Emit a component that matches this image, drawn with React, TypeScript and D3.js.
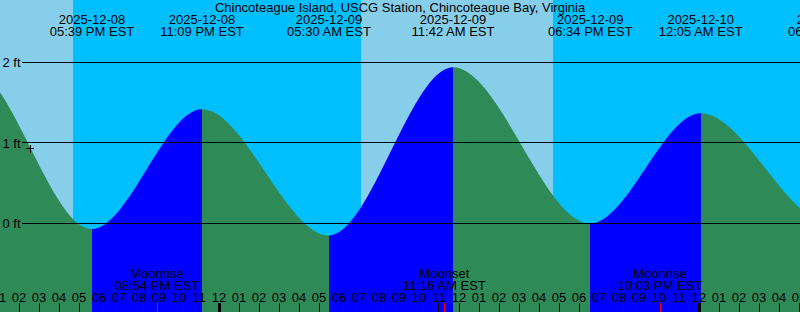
import React from "react";
import * as d3 from "d3";

const W = 800;
const H = 312;

const title = "Chincoteague Island, USCG Station, Chincoteague Bay, Virginia";

// Chart time window (local time)
const windowStart = "2025-12-08T13:03";
const windowEnd = "2025-12-10T05:03";

// High / low tide events (ft)
const tideTimes = [
  "2025-12-08T05:12",
  "2025-12-08T11:30",
  "2025-12-08T17:39",
  "2025-12-08T23:09",
  "2025-12-09T05:30",
  "2025-12-09T11:42",
  "2025-12-09T18:34",
  "2025-12-10T00:05",
  "2025-12-10T06:33",
  "2025-12-10T12:45",
];
const tideHeights = [0.05, 1.95, -0.07, 1.42, -0.15, 1.94, 0.0, 1.37, 0.0, 1.75];

// Sunrise / sunset
const sunsetTimes = ["2025-12-08T16:42", "2025-12-09T16:42"];
const sunriseTimes = ["2025-12-09T07:06", "2025-12-10T07:07"];

// Moon events
const moonTimes = ["2025-12-08T20:54", "2025-12-09T11:16", "2025-12-09T22:03"];
const moonLabels = ["Moonrise", "Moonset", "Moonrise"];

// Current time marker
const nowTime = "2025-12-08T14:33";
const nowLevel = 0.93;

// Level grid
const levelTicks = [0, 1, 2];

const COLORS = {
  day: "#87CEEB",
  night: "#00BFFF",
  flood: "#0000FF",
  ebb: "#2E8B57",
};

const FONT = "'Liberation Sans', Arial, sans-serif";
const FS = 13;

const parse = d3.timeParse("%Y-%m-%dT%H:%M");

export default function App() {
  const t0 = parse(windowStart)!;
  const t1 = parse(windowEnd)!;
  const x = d3.scaleTime().domain([t0, t1]).range([0, W]);
  const y = d3.scaleLinear().domain([0, 2]).range([223.5, 62.5]);

  const tides = tideTimes.map((s, i) => ({ t: parse(s)!, h: tideHeights[i] }));
  const labelled = tides.filter((d) => d.t >= t0 && d.t <= d3.timeHour.offset(t1, 3));

  const area = d3
    .area<{ t: Date; h: number }>()
    .x((d) => x(d.t))
    .y0(H)
    .y1((d) => y(d.h))
    .curve(d3.curveMonotoneX);

  const nights = sunsetTimes.map((s, i) => ({ a: parse(s)!, b: parse(sunriseTimes[i])! }));

  const fmtDate = d3.timeFormat("%Y-%m-%d");
  const fmtClock = d3.timeFormat("%I:%M %p EST");
  const fmtHour = d3.timeFormat("%I");

  const hours = d3.timeHour.range(d3.timeHour.floor(t0), d3.timeHour.offset(t1, 1));

  const moons = moonTimes.map((s, i) => ({ t: parse(s)!, label: moonLabels[i] }));
  const nowT = parse(nowTime)!;

  const crisp = (v: number) => Math.floor(v) + 0.5;

  return (
    <svg
      width={W}
      height={H}
      style={{ position: "absolute", left: 0, top: 0, display: "block" }}
      fontFamily={FONT}
      fontSize={FS}
    >
      <defs>
        <clipPath id="under">
          <path d={area(tides) || ""} />
        </clipPath>
      </defs>
      {/* day background */}
      <rect x={0} y={0} width={W} height={H} fill={COLORS.day} />
      {nights.map((n, i) => (
        <rect
          key={"n" + i}
          x={x(n.a)}
          y={0}
          width={x(n.b) - x(n.a)}
          height={H}
          fill={COLORS.night}
          shapeRendering="crispEdges"
        />
      ))}
      {/* flood / ebb fill under curve */}
      <g clipPath="url(#under)" shapeRendering="crispEdges">
        {tides.slice(0, -1).map((d, i) => {
          const n = tides[i + 1];
          const rising = n.h > d.h;
          return (
            <rect
              key={"f" + i}
              x={x(d.t)}
              y={0}
              width={x(n.t) - x(d.t)}
              height={H}
              fill={rising ? COLORS.flood : COLORS.ebb}
            />
          );
        })}
      </g>
      {/* level lines */}
      {levelTicks.map((v) => (
        <g key={"l" + v}>
          <line
            x1={22}
            x2={W}
            y1={crisp(y(v) - 0.5)}
            y2={crisp(y(v) - 0.5)}
            stroke="#000"
            strokeWidth={1}
          />
          <text x={2.5} y={y(v)} dy="0.35em" fill="#000">
            {v} ft
          </text>
        </g>
      ))}
      {/* title */}
      <text x={W / 2} y={11.5} textAnchor="middle" fill="#000">
        {title}
      </text>
      {/* tide event labels */}
      {labelled.map((d, i) => (
        <g key={"e" + i}>
          <text x={x(d.t)} y={24} textAnchor="middle" fill="#000">
            {fmtDate(d.t)}
          </text>
          <text x={x(d.t)} y={36} textAnchor="middle" fill="#000">
            {fmtClock(d.t)}
          </text>
        </g>
      ))}
      {/* moon labels */}
      {moons.map((m, i) => (
        <g key={"m" + i}>
          <text x={x(m.t)} y={278} textAnchor="middle" fill="#000">
            {m.label}
          </text>
          <text x={x(m.t)} y={290} textAnchor="middle" fill="#000">
            {fmtClock(m.t)}
          </text>
        </g>
      ))}
      {/* hour labels and ticks */}
      {hours.map((h, i) => {
        const hx = x(h);
        const midnight = h.getHours() === 0;
        return (
          <g key={"h" + i}>
            <text x={hx} y={302} textAnchor="middle" fill="#000">
              {fmtHour(h)}
            </text>
            {midnight ? (
              <rect x={Math.round(hx) - 1.5} y={303} width={3} height={9} fill="#000" shapeRendering="crispEdges" />
            ) : (
              <line x1={crisp(hx)} x2={crisp(hx)} y1={303} y2={H} stroke="#000" shapeRendering="crispEdges" />
            )}
          </g>
        );
      })}
      {moons.map((m, i) => (
        <line
          key={"mt" + i}
          x1={crisp(x(m.t))}
          x2={crisp(x(m.t))}
          y1={303}
          y2={H}
          stroke="#FF0000"
          shapeRendering="crispEdges"
        />
      ))}
      {/* current time marker */}
      <g stroke="#000" strokeWidth={1} shapeRendering="crispEdges">
        <line x1={x(nowT) - 4} x2={x(nowT) + 4} y1={crisp(y(nowLevel))} y2={crisp(y(nowLevel))} />
        <line x1={crisp(x(nowT))} x2={crisp(x(nowT))} y1={y(nowLevel) - 4} y2={y(nowLevel) + 4} />
      </g>
    </svg>
  );
}
